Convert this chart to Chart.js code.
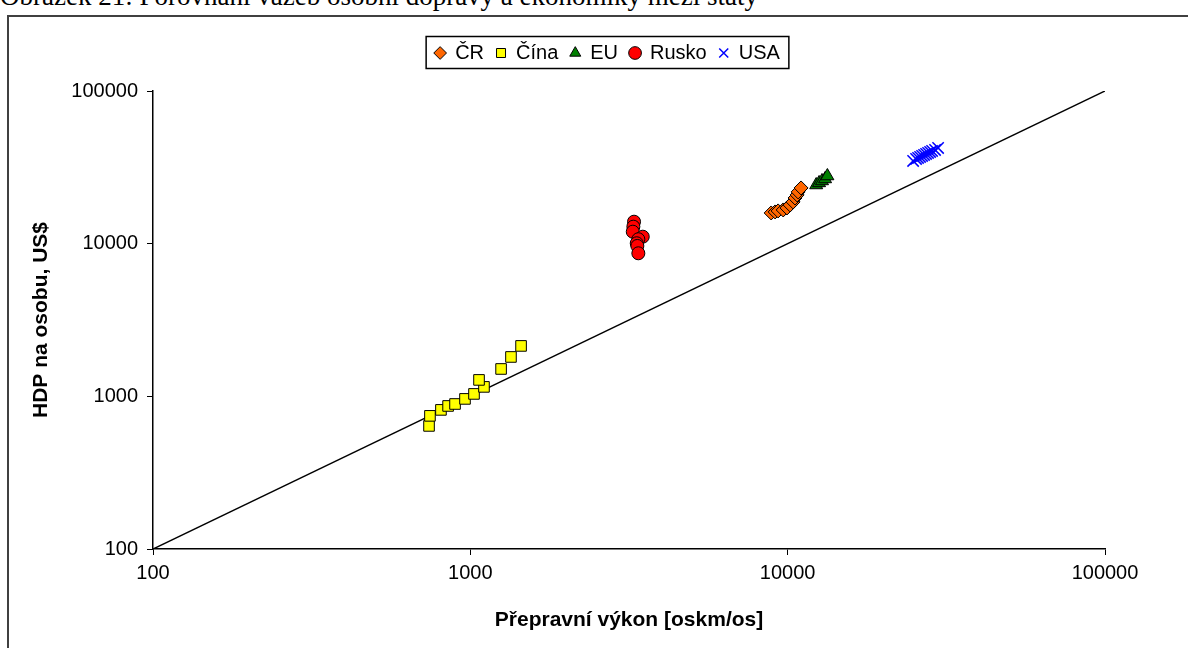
<!DOCTYPE html>
<html>
<head>
<meta charset="utf-8">
<script src="https://cdn.jsdelivr.net/npm/chart.js@4/dist/chart.umd.min.js"></script>
<style>
  html, body { margin: 0; padding: 0; background: #fff; overflow: hidden; width: 1188px; height: 648px; }
  #caption { position: absolute; left: 0; top: -17px; font-size: 27px; line-height: 27px; font-family: "Liberation Serif", "Times New Roman", serif; white-space: nowrap; color: #000; }
  #frame { position: absolute; left: 7px; top: 15px; width: 1200px; height: 660px; border: 2px solid #404040; background: #fff; }
  #chart { position: absolute; left: 0; top: 0; }
</style>
</head>
<body>
<div id="caption">Obrázek 21: Porovnání vazeb osobní dopravy a ekonomiky mezi státy</div>
<div id="frame"></div>
<canvas id="chart" width="1188" height="648"></canvas>
<script>
// Data (log-log axes)
const seriesNames = ['ČR', 'Čína', 'EU', 'Rusko', 'USA'];

const crX = [8870, 9130, 9330, 9680, 9950, 10180, 10400, 10550, 10710, 10790, 11020];
const crY = [15890, 16140, 16390, 16630, 17140, 17920, 18770, 19920, 20850, 21820, 23170];

const cinaX = [741, 746, 808, 851, 895, 962, 1027, 1104, 1065, 1250, 1343, 1445];
const cinaY = [640, 745, 815, 865, 891, 962, 1037, 1153, 1281, 1511, 1811, 2139];

const euX = [12300, 12560, 12830, 13120, 13340];
const euY = [24230, 25000, 25750, 26530, 27750];

const ruskoX = [3280, 3264, 3250, 3494, 3384, 3345, 3360, 3384];
const ruskoY = [13930, 12920, 11980, 11110, 10690, 10060, 9660, 8650];

const usaX = [24850, 25390, 25760, 26140, 26520, 26910, 27300, 27700, 28110, 28520, 29140, 29790];
const usaY = [34800, 35870, 36410, 36970, 37530, 38110, 38690, 39280, 39870, 40480, 41090, 42340];

// reference line y = x
const refX = [100, 100000];
const refY = [100, 100000];

const axisTicks = [100, 1000, 10000, 100000];
const tickLabels = ['100', '1000', '10000', '100000'];

const fontFamily = '"Liberation Sans", Arial, sans-serif';

function pts(xs, ys) {
    return xs.map((x, i) => ({ x: x, y: ys[i] }));
}

// Put the legend where the reference has it and draw a frame round it
const legendFrame = {
    id: 'legendFrame',
    afterLayout(chart) {
        const lg = chart.legend;
        const dx = 607.5 - (lg.left + lg.right) / 2;
        const dy = 31 - lg.top;
        lg.left += dx;
        lg.right += dx;
        lg.top += dy;
        lg.bottom += dy;
    },
    afterDraw(chart) {
        const lg = chart.legend;
        const pad = lg.options.labels.padding;
        const w = lg.lineWidths[0] - pad;
        const cx = (lg.left + lg.right) / 2;
        const ctx = chart.ctx;
        ctx.save();
        ctx.strokeStyle = '#000';
        ctx.lineWidth = 1.5;
        ctx.strokeRect(cx - w / 2 - 9, 36.5, w + 18, 32);
        ctx.restore();
    }
};

const ctx = document.getElementById('chart').getContext('2d');
const chart = new Chart(ctx, {
    type: 'scatter',
    data: {
        datasets: [
            {
                label: seriesNames[0],
                data: pts(crX, crY),
                pointStyle: 'rectRot',
                pointRadius: 7,
                backgroundColor: '#ff6600',
                borderColor: '#000',
                borderWidth: 1
            },
            {
                label: seriesNames[1],
                data: pts(cinaX, cinaY),
                pointStyle: 'rect',
                pointRadius: 7.5,
                backgroundColor: '#ffff00',
                borderColor: '#000',
                borderWidth: 1
            },
            {
                label: seriesNames[2],
                data: pts(euX, euY),
                pointStyle: 'triangle',
                pointRadius: 7.5,
                backgroundColor: '#008000',
                borderColor: '#000',
                borderWidth: 1
            },
            {
                label: seriesNames[3],
                data: pts(ruskoX, ruskoY),
                pointStyle: 'circle',
                pointRadius: 6.5,
                backgroundColor: '#ff0000',
                borderColor: '#000',
                borderWidth: 1
            },
            {
                label: seriesNames[4],
                data: pts(usaX, usaY),
                pointStyle: 'crossRot',
                pointRadius: 8,
                backgroundColor: '#0000ff',
                borderColor: '#0000ff',
                borderWidth: 1.5
            },
            {
                label: 'y = x',
                data: pts(refX, refY),
                showLine: true,
                borderColor: '#000',
                borderWidth: 1.5,
                pointRadius: 0,
                fill: false
            }
        ]
    },
    options: {
        responsive: false,
        animation: false,
        layout: {
            padding: { left: 22, right: 83, top: 49, bottom: 0 }
        },
        plugins: {
            legend: {
                position: 'top',
                labels: {
                    usePointStyle: true,
                    boxWidth: 10,
                    boxHeight: 9,
                    padding: 12,
                    color: '#000',
                    font: { family: fontFamily, size: 20 },
                    filter: item => item.datasetIndex < seriesNames.length
                }
            },
            tooltip: { enabled: false }
        },
        scales: {
            x: {
                type: 'logarithmic',
                min: 100,
                max: 100000,
                afterBuildTicks: s => { s.ticks = axisTicks.map(v => ({ value: v })); },
                afterFit: s => { s.height = 99; },
                ticks: {
                    callback: (v, i) => tickLabels[i],
                    color: '#000',
                    padding: 6,
                    maxRotation: 0,
                    font: { family: fontFamily, size: 20 }
                },
                grid: { drawOnChartArea: false, tickLength: 6, color: '#000' },
                border: { color: '#000', width: 1.5 },
                title: {
                    display: true,
                    text: 'Přepravní výkon [oskm/os]',
                    color: '#000',
                    font: { family: fontFamily, size: 21, weight: 'bold' },
                    padding: { top: 0, bottom: 15 }
                }
            },
            y: {
                type: 'logarithmic',
                min: 100,
                max: 100000,
                afterBuildTicks: s => { s.ticks = axisTicks.map(v => ({ value: v })); },
                afterFit: s => { s.width = 131; },
                ticks: {
                    callback: (v, i) => tickLabels[i],
                    color: '#000',
                    padding: 9,
                    font: { family: fontFamily, size: 20 }
                },
                grid: { drawOnChartArea: false, tickLength: 6, color: '#000' },
                border: { color: '#000', width: 1.5 },
                title: {
                    display: true,
                    text: 'HDP na osobu, US$',
                    color: '#000',
                    font: { family: fontFamily, size: 21, weight: 'bold' },
                    padding: { top: 7, bottom: 0 }
                }
            }
        }
    },
    plugins: [legendFrame]
});
</script>
</body>
</html>
